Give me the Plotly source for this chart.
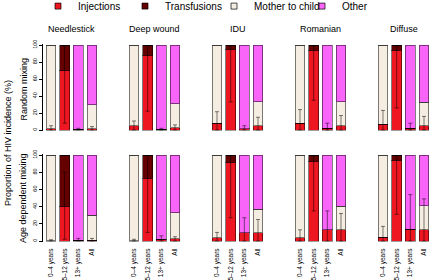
import plotly.graph_objects as go

# ---------------- data ----------------
scenarios = ["Needlestick", "Deep wound", "IDU", "Romanian", "Diffuse"]
age_groups = ["0–4 years", "5–12 years", "13+ years", "All"]
mixing_rows = ["Random mixing", "Age dependent mixing"]
sources = ["Injections", "Transfusions", "Mother to child", "Other"]

# Random mixing (per scenario: 0-4, 5-12, 13+, All), percent
rand_inj = [[1.5, 70, 1, 1.5], [5, 88, 1, 2.7], [8, 95, 1.5, 5], [8, 94, 2, 5], [7, 94, 2, 5]]
rand_trans = [[0, 30, 0, 0], [0, 12, 0, 0], [0, 5, 0, 0], [0, 6, 0, 0], [0, 6, 0, 0]]
rand_mtc = [[98.5, 0, 0, 28.5], [95, 0, 0, 28.3], [92, 0, 0, 28], [92, 0, 0, 28], [93, 0, 0, 27.5]]
rand_other = [[0, 0, 99, 70], [0, 0, 99, 69], [0, 0, 98.5, 67], [0, 0, 98, 67], [0, 0, 98, 67.5]]
rand_lo = [[0, 8, 0, 0], [0, 22, 0, 0], [0, 33, 0, 0], [0, 35, 0, 0], [0, 26, 0, 0]]
rand_hi = [[5, 99, 2, 4], [10.6, 99, 2, 6], [21.5, 99, 5, 15], [24, 99, 8, 17], [23, 99, 8, 16]]

# Age dependent mixing
age_inj = [[0.5, 40, 1, 1], [0.5, 73, 2, 2.5], [3.8, 91.5, 9.5, 9.5], [4, 93, 13, 13], [4.3, 94, 13.8, 13]]
age_trans = [[0, 60, 0, 0], [0, 27, 0, 0], [0, 8.5, 0, 0], [0, 7, 0, 0], [0, 6, 0, 0]]
age_mtc = [[99.5, 0, 0, 29], [99.5, 0, 0, 30.5], [96.2, 0, 0, 27.5], [96, 0, 0, 27.7], [95.7, 0, 0, 28]]
age_other = [[0, 0, 99, 70], [0, 0, 98, 67], [0, 0, 90.5, 63], [0, 0, 87, 59.3], [0, 0, 86.2, 59]]
age_lo = [[0, 2, 0, 0], [0, 10, 0, 0], [0, 27, 0, 0], [0, 35, 0, 0], [0, 31, 0, 0]]
age_hi = [[1.5, 80, 3, 3], [2, 99, 6, 5], [10, 99, 27, 25], [13, 99, 35, 32], [17, 99, 54, 49]]

y_ticks = [0, 20, 40, 60, 80, 100]

# ---------------- style / layout constants ----------------
W, H = 431, 280
FONT = "Liberation Sans"
colors = ["#EE1620", "#650000", "#F5EDE1", "#F964F9"]
outline = "rgba(0,0,0,0.5)"
err_color = "rgba(0,0,0,0.5)"

first_center = 51.0     # px of first bar centre
panel_step = 83.0       # px between panels
bar_step = 13.67        # px per category
x_range = [-0.6, 3.5]
row_px = [(45.0, 130.0), (155.0, 241.0)]  # (y of 100, y of 0)
y_range = [-1, 101]
legend_widths = [42, 44, 43, 40]


def fx(p):
    return p / W


def fy(p):
    return 1 - p / H


rows = [
    (rand_inj, rand_trans, rand_mtc, rand_other, rand_lo, rand_hi),
    (age_inj, age_trans, age_mtc, age_other, age_lo, age_hi),
]

fig = go.Figure()
layout = dict(
    width=W, height=H,
    margin=dict(l=0, r=0, t=0, b=0, pad=0, autoexpand=False),
    paper_bgcolor="white", plot_bgcolor="white",
    barmode="stack", bargap=0.27,
    font=dict(family=FONT, color="black"),
    showlegend=True,
    legend=dict(orientation="h", x=fx(38), xanchor="left", y=1.03, yanchor="top",
                traceorder="normal",
                font=dict(size=10, family=FONT), bgcolor="rgba(0,0,0,0)",
                itemclick=False, itemdoubleclick=False),
    annotations=[],
)

for r, (inj, trans, mtc, other, lo, hi) in enumerate(rows):
    top_px, bot_px = row_px[r]
    ppu = (bot_px - top_px) / 100.0
    yd = [fy(bot_px - (y_range[0]) * ppu), fy(top_px - (y_range[1] - 100) * ppu)]
    for c in range(len(scenarios)):
        idx = r * len(scenarios) + c + 1
        sfx = "" if idx == 1 else str(idx)
        xa, ya = "x" + sfx, "y" + sfx
        centre0 = first_center + panel_step * c
        xd = [fx(centre0 + x_range[0] * bar_step), fx(centre0 + x_range[1] * bar_step)]
        xd = [max(0, xd[0]), min(1, xd[1])]

        for s, vals in enumerate([inj[c], trans[c], mtc[c], other[c]]):
            fig.add_trace(go.Bar(
                x=age_groups, y=vals, name=sources[s],
                marker=dict(color=colors[s], line=dict(color=outline, width=1)),
                xaxis=xa, yaxis=ya, showlegend=False, hoverinfo="skip"))

        fig.add_trace(go.Scatter(
            x=age_groups, y=inj[c], mode="markers",
            marker=dict(size=1, color="rgba(0,0,0,0)"),
            error_y=dict(type="data", symmetric=False,
                         array=[h - v for h, v in zip(hi[c], inj[c])],
                         arrayminus=[v - l for v, l in zip(inj[c], lo[c])],
                         color=err_color, thickness=1, width=2),
            xaxis=xa, yaxis=ya, showlegend=False, hoverinfo="skip"))

        layout["xaxis" + sfx] = dict(
            domain=xd, anchor=ya, range=x_range, type="category",
            categoryorder="array", categoryarray=age_groups,
            showgrid=False, zeroline=False, showline=False,
            showticklabels=(r == 1), tickangle=-90,
            tickfont=dict(size=6.5, family=FONT),
            ticks="outside" if r == 1 else "", ticklen=3,
            tickcolor="rgba(0,0,0,0)", automargin=False)
        first_col = (c == 0)
        layout["yaxis" + sfx] = dict(
            domain=yd, anchor=xa, range=y_range,
            showgrid=False, zeroline=False,
            showline=first_col, linecolor="black", linewidth=1,
            ticks="outside" if first_col else "", ticklen=3, tickwidth=1,
            tickcolor="black", tickvals=y_ticks,
            showticklabels=first_col, tickangle=-90,
            tickfont=dict(size=5.5, family=FONT), automargin=False)

        if r == 0:
            cx = centre0 + 1.5 * bar_step
            layout["annotations"].append(dict(
                text=scenarios[c], x=fx(cx), y=fy(29), xref="paper", yref="paper",
                xanchor="center", yanchor="middle", showarrow=False,
                font=dict(size=9, family=FONT)))

    layout["annotations"].append(dict(
        text=mixing_rows[r], x=fx(23), y=fy((top_px + bot_px) / 2 + (2 if r == 0 else 0)),
        xref="paper", yref="paper", textangle=-90,
        xanchor="center", yanchor="middle", showarrow=False,
        font=dict(size=9, family=FONT)))

layout["annotations"].append(dict(
    text="Proportion of HIV incidence (%)", x=fx(8), y=fy(143),
    xref="paper", yref="paper", textangle=-90,
    xanchor="center", yanchor="middle", showarrow=False,
    font=dict(size=9, family=FONT)))

# legend entries
for s in range(len(sources)):
    fig.add_trace(go.Scatter(
        x=[None], y=[None], mode="markers", name=sources[s],
        marker=dict(symbol="square", size=6, color=colors[s],
                    line=dict(color="rgba(0,0,0,0.7)", width=1)),
        legendwidth=legend_widths[s], xaxis="x", yaxis="y", hoverinfo="skip"))

fig.update_layout(**layout)
fig.write_html("out.html", config={"displayModeBar": False},
               post_script="document.body.style.margin='0';document.body.style.overflow='hidden';")
